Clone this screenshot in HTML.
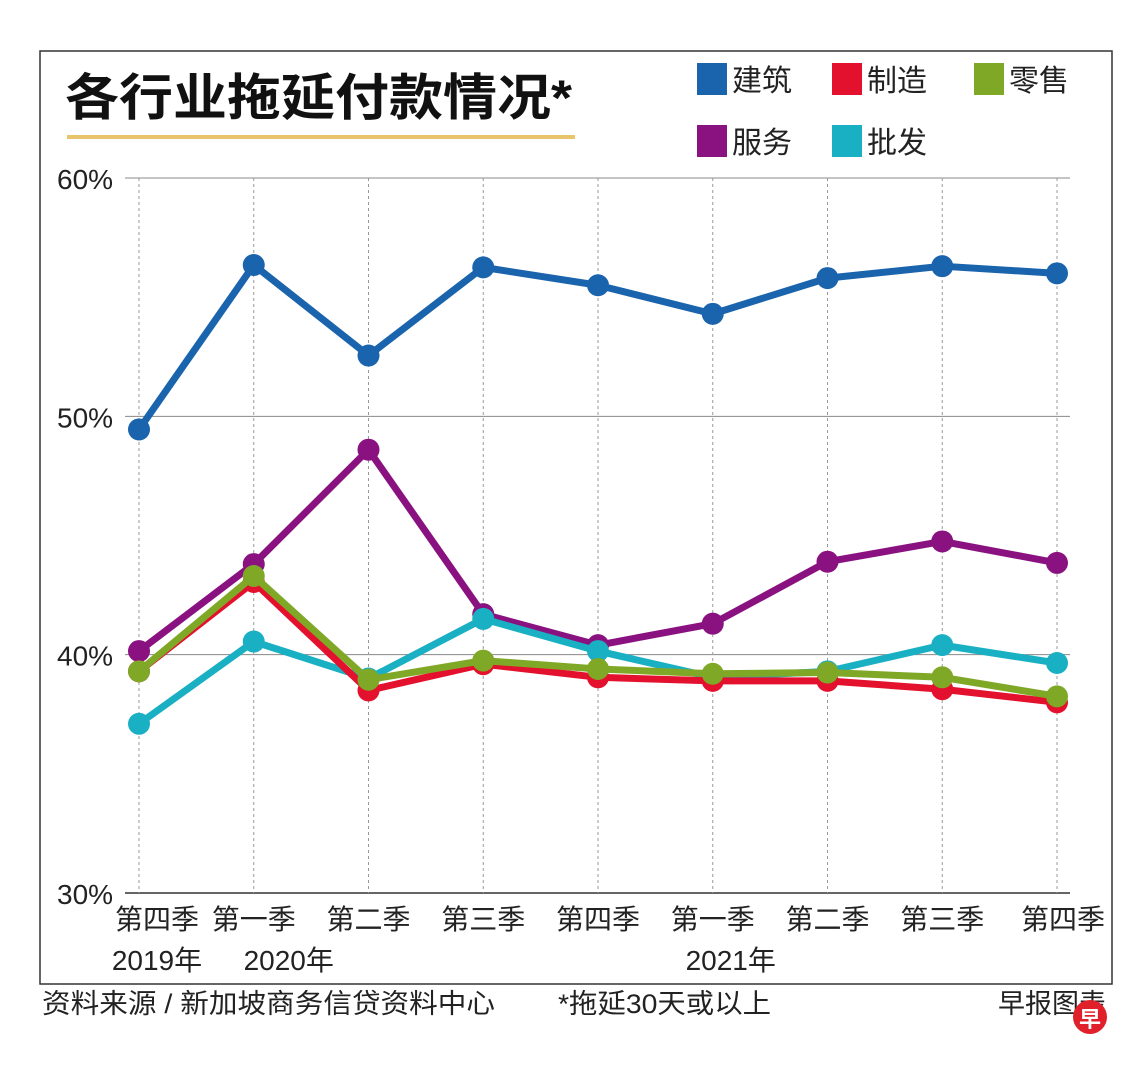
<!DOCTYPE html>
<html><head><meta charset="utf-8"><style>
body{margin:0;background:#fff;}
svg text{font-family:"Liberation Sans","Noto Sans CJK SC",sans-serif;}
</style></head><body>
<svg id="chart" width="1140" height="1065" xmlns="http://www.w3.org/2000/svg">
<rect x="40" y="51" width="1072" height="933" fill="none" stroke="#333" stroke-width="1.5"/>
<text x="65" y="115" font-size="50" font-weight="bold" fill="#111" textLength="507" lengthAdjust="spacingAndGlyphs">各行业拖延付款情况*</text>
<rect x="67" y="135" width="508" height="4" fill="#e8c46a"/>
<g id="legend"></g>
<g id="grid"></g>
<g id="series"></g>
<text x="42" y="1013" font-size="27" fill="#222" textLength="453" lengthAdjust="spacingAndGlyphs">资料来源 / 新加坡商务信贷资料中心</text>
<text x="558" y="1013" font-size="27" fill="#222" textLength="213" lengthAdjust="spacingAndGlyphs">*拖延30天或以上</text>
<text x="998" y="1013" font-size="27" fill="#222">早报图表</text>
<circle cx="1090" cy="1017" r="17" fill="#e0202a"/>
<text x="1090" y="1027" font-size="22" fill="#fff" text-anchor="middle" font-weight="bold">早</text>
</svg>
<script>
const categories=["第四季","第一季","第二季","第三季","第四季","第一季","第二季","第三季","第四季"];
const years=["2019年","2020年","","","","2021年","","",""];
const yTicks=[30,40,50,60];
const seriesNames=["建筑","制造","零售","服务","批发"];
const seriesColors=["#1a63ad","#e3112d","#7fa827","#8a1180","#1ab0c4"];
const construction=[49.45,56.35,52.55,56.25,55.5,54.3,55.8,56.3,56.0];
const manufacturing=[39.3,43.05,38.5,39.6,39.05,38.9,38.9,38.55,38.0];
const retail=[39.3,43.3,38.95,39.75,39.4,39.2,39.25,39.05,38.25];
const services=[40.15,43.8,48.6,41.7,40.4,41.3,43.9,44.75,43.85];
const wholesale=[37.1,40.55,39.0,41.5,40.15,39.05,39.3,40.4,39.65];
const NS="http://www.w3.org/2000/svg";
const x0=139,x1=1057,yTop=178,yBot=893,vMin=30,vMax=60;
function xs(i){return x0+i*(x1-x0)/(categories.length-1);}
function ys(v){return yBot-(v-vMin)/(vMax-vMin)*(yBot-yTop);}
function mk(tag,attrs,parent){const e=document.createElementNS(NS,tag);for(const k in attrs)e.setAttribute(k,attrs[k]);parent.appendChild(e);return e;}
const grid=document.getElementById('grid');
yTicks.forEach(t=>{
 const l=mk('line',{x1:125,x2:1070,y1:ys(t),y2:ys(t),stroke:t===30?'#333':'#888','stroke-width':t===30?1.5:1},grid);
 
 
 const tx=mk('text',{x:57,y:ys(t)+11,'font-size':28,fill:'#222'},grid);tx.textContent=t+'%';
 
 
});
categories.forEach((c,i)=>{
 const l=mk('line',{x1:xs(i),x2:xs(i),y1:yTop,y2:yBot,stroke:'#999','stroke-dasharray':'3,3'},grid);
 
 
 const tx=mk('text',{x:xs(i)+(i===0?18:i===8?6:0),y:929,'font-size':28,fill:'#222','text-anchor':'middle'},grid);tx.textContent=c;
 
 
 if(years[i]){const ty=mk('text',{x:xs(i)+(i===0?18:i===1?35:18),y:970,'font-size':28,fill:'#222','text-anchor':'middle'},grid);ty.textContent=years[i];
 
 }
});
const data=[construction,manufacturing,retail,services,wholesale];
const order=[3,4,1,2,0];
const sg=document.getElementById('series');
order.forEach(s=>{
 const g=mk('g',{},sg);
 
 
 const pts=data[s].map((v,i)=>xs(i)+','+ys(v)).join(' ');
 const pl=mk('polyline',{points:pts,fill:'none',stroke:seriesColors[s],'stroke-width':7,'stroke-linejoin':'round'},g);
 
 
 data[s].forEach((v,i)=>{const c=mk('circle',{cx:xs(i),cy:ys(v),r:11,fill:seriesColors[s]},g);
 
 });
});
const lg=document.getElementById('legend');
const lpos=[[697,63],[832,63],[974,63],[697,125],[832,125]];
seriesNames.forEach((n,i)=>{
 const r=mk('rect',{x:lpos[i][0],y:lpos[i][1],width:30,height:32,fill:seriesColors[i]},lg);
 
 
 const t=mk('text',{x:lpos[i][0]+35,y:lpos[i][1]+28,'font-size':30,fill:'#222'},lg);t.textContent=n;
 
 
});
</script>
</body></html>
